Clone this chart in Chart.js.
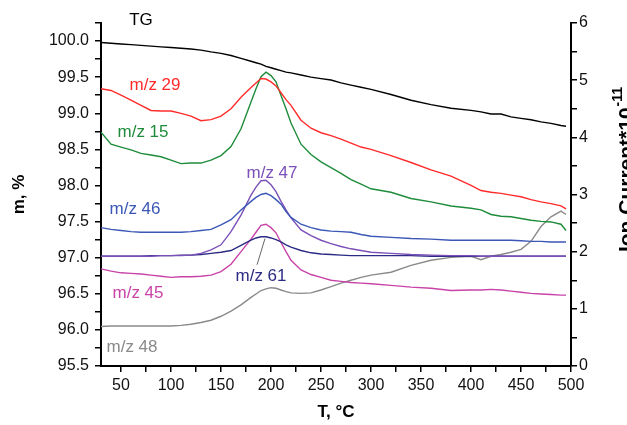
<!DOCTYPE html>
<html lang="en">
<head>
  <meta charset="UTF-8" />
  <title>TG / MS</title>
  <script src="https://cdn.jsdelivr.net/npm/chart.js"></script>
  <style>
    body { margin: 0; background: #fff; }
    #wrap { width: 627px; height: 425px; }
  </style>
</head>
<body>
  <div id="wrap"><canvas id="tgChart" width="627" height="425"></canvas></div>

  <script>
    // temperature, °C
    const temps = [30, 40, 50, 60, 70, 80, 90, 100, 110, 120, 130, 140, 150, 160, 170, 180, 185, 190, 195, 200,
      205, 210, 215, 220, 230, 240, 250, 260, 270, 280, 290, 300, 320, 340, 360, 380, 400, 410, 420, 430,
      440, 450, 460, 470, 480, 490, 495];

    // mass, % (left axis)
    const tg = [99.98, 99.97, 99.96, 99.95, 99.94, 99.93, 99.92, 99.91, 99.90, 99.89, 99.875, 99.85, 99.83, 99.80, 99.76, 99.72, 99.70, 99.68, 99.65, 99.63,
      99.61, 99.59, 99.57, 99.56, 99.53, 99.50, 99.48, 99.46, 99.42, 99.39, 99.36, 99.33, 99.26, 99.18, 99.12, 99.07, 99.04, 99.02, 98.99, 98.99,
      98.95, 98.93, 98.91, 98.88, 98.86, 98.83, 98.82];

    // ion current *1e-11 (right axis)
    const mz29 = [4.85, 4.82, 4.74, 4.65, 4.56, 4.47, 4.46, 4.46, 4.42, 4.37, 4.29, 4.31, 4.37, 4.50, 4.70, 4.87, 4.95, 5.03, 5.02, 4.97,
      4.90, 4.78, 4.66, 4.56, 4.30, 4.16, 4.08, 4.03, 3.97, 3.90, 3.83, 3.79, 3.68, 3.56, 3.43, 3.32, 3.16, 3.07, 3.04, 3.02,
      2.99, 2.96, 2.91, 2.87, 2.84, 2.80, 2.75];
    const mz15 = [4.09, 3.88, 3.83, 3.78, 3.72, 3.69, 3.66, 3.60, 3.54, 3.55, 3.55, 3.60, 3.68, 3.84, 4.15, 4.62, 4.85, 5.06, 5.14, 5.08,
      4.97, 4.73, 4.50, 4.25, 3.88, 3.70, 3.57, 3.47, 3.37, 3.26, 3.18, 3.10, 3.04, 2.93, 2.87, 2.80, 2.76, 2.73, 2.65, 2.62,
      2.61, 2.58, 2.55, 2.53, 2.52, 2.48, 2.37];
    const mz46 = [2.42, 2.39, 2.37, 2.35, 2.34, 2.34, 2.34, 2.34, 2.34, 2.35, 2.37, 2.39, 2.47, 2.56, 2.73, 2.88, 2.95, 3.00, 3.02, 2.98,
      2.91, 2.83, 2.70, 2.60, 2.48, 2.42, 2.38, 2.36, 2.35, 2.34, 2.30, 2.27, 2.25, 2.23, 2.22, 2.20, 2.20, 2.20, 2.20, 2.20,
      2.20, 2.19, 2.18, 2.18, 2.17, 2.17, 2.17];
    const mz47 = [1.92, 1.92, 1.92, 1.92, 1.92, 1.92, 1.93, 1.93, 1.93, 1.94, 1.97, 2.03, 2.12, 2.35, 2.64, 2.99, 3.13, 3.24, 3.25, 3.17,
      3.05, 2.88, 2.73, 2.59, 2.38, 2.28, 2.20, 2.14, 2.09, 2.05, 2.02, 1.99, 1.97, 1.95, 1.94, 1.93, 1.93, 1.92, 1.92, 1.92,
      1.92, 1.92, 1.92, 1.92, 1.92, 1.92, 1.92];
    const mz61 = [1.92, 1.92, 1.92, 1.92, 1.92, 1.93, 1.93, 1.93, 1.94, 1.94, 1.95, 1.97, 1.99, 2.02, 2.11, 2.20, 2.24, 2.26, 2.26, 2.24,
      2.21, 2.17, 2.12, 2.08, 2.02, 1.98, 1.96, 1.95, 1.94, 1.93, 1.93, 1.93, 1.93, 1.93, 1.92, 1.92, 1.92, 1.92, 1.92, 1.92,
      1.92, 1.92, 1.92, 1.92, 1.92, 1.92, 1.92];
    const mz45 = [1.70, 1.66, 1.63, 1.62, 1.61, 1.59, 1.57, 1.55, 1.56, 1.56, 1.57, 1.59, 1.65, 1.78, 2.00, 2.22, 2.34, 2.46, 2.48, 2.42,
      2.33, 2.16, 2.00, 1.85, 1.68, 1.60, 1.55, 1.50, 1.48, 1.46, 1.45, 1.44, 1.41, 1.38, 1.36, 1.32, 1.33, 1.33, 1.34, 1.33,
      1.31, 1.29, 1.27, 1.26, 1.25, 1.24, 1.24];
    const mz48 = [0.69, 0.70, 0.70, 0.70, 0.70, 0.70, 0.70, 0.70, 0.71, 0.73, 0.76, 0.80, 0.87, 0.96, 1.07, 1.20, 1.26, 1.32, 1.35, 1.37,
      1.36, 1.33, 1.30, 1.28, 1.27, 1.28, 1.33, 1.39, 1.45, 1.50, 1.55, 1.59, 1.64, 1.76, 1.85, 1.90, 1.92, 1.86, 1.92, 1.95,
      1.99, 2.04, 2.18, 2.44, 2.61, 2.71, 2.65];

    // axis ticks
    const xMajor = [50, 100, 150, 200, 250, 300, 350, 400, 450, 500];
    const xMinor = [75, 125, 175, 225, 275, 325, 375, 425, 475];
    const mMajor = [95.5, 96.0, 96.5, 97.0, 97.5, 98.0, 98.5, 99.0, 99.5, 100.0];
    const mMinor = [95.75, 96.25, 96.75, 97.25, 97.75, 98.25, 98.75, 99.25, 99.75, 100.25];
    const ionMajor = [0, 1, 2, 3, 4, 5, 6];
    const ionMinor = [0.5, 1.5, 2.5, 3.5, 4.5, 5.5];

    const series = [
      { name: 'TG', data: tg, color: '#000000', axis: 'y' },
      { name: 'm/z 29', data: mz29, color: '#ff2b2b', axis: 'y1' },
      { name: 'm/z 15', data: mz15, color: '#1e8c3a', axis: 'y1' },
      { name: 'm/z 46', data: mz46, color: '#3b57b6', axis: 'y1' },
      { name: 'm/z 47', data: mz47, color: '#7b50b8', axis: 'y1' },
      { name: 'm/z 61', data: mz61, color: '#2c2b84', axis: 'y1' },
      { name: 'm/z 45', data: mz45, color: '#c843a8', axis: 'y1' },
      { name: 'm/z 48', data: mz48, color: '#8a8a8a', axis: 'y1' }
    ];

    // where the curve names sit: [T, ion current]
    const notes = [
      { text: 'TG', at: [70, 6.04], color: '#000000' },
      { text: 'm/z 29', at: [84, 4.91], color: '#ff2b2b' },
      { text: 'm/z 15', at: [72, 4.08], color: '#1e8c3a' },
      { text: 'm/z 47', at: [201, 3.37], color: '#7b50b8' },
      { text: 'm/z 46', at: [64, 2.74], color: '#3b57b6' },
      { text: 'm/z 61', at: [190, 1.57], color: '#2c2b84' },
      { text: 'm/z 45', at: [67, 1.27], color: '#c843a8' },
      { text: 'm/z 48', at: [61, 0.33], color: '#8a8a8a' }
    ];
    const leader = [[194, 2.23], [186, 1.77]];

    const FONT = '"Liberation Sans", Arial, sans-serif';

    const notesPlugin = {
      id: 'notes',
      afterDatasetsDraw(chart) {
        const { ctx, scales: { x, y1 } } = chart;
        ctx.save();
        ctx.font = '17px ' + FONT;
        ctx.textAlign = 'center';
        ctx.textBaseline = 'middle';
        notes.forEach(n => {
          ctx.fillStyle = n.color;
          ctx.fillText(n.text, x.getPixelForValue(n.at[0]), y1.getPixelForValue(n.at[1]));
        });
        ctx.strokeStyle = '#666';
        ctx.lineWidth = 1;
        ctx.beginPath();
        ctx.moveTo(x.getPixelForValue(leader[0][0]), y1.getPixelForValue(leader[0][1]));
        ctx.lineTo(x.getPixelForValue(leader[1][0]), y1.getPixelForValue(leader[1][1]));
        ctx.stroke();

        // right axis title, read bottom to top, runs off the edge like the original
        ctx.translate(627, 170);
        ctx.rotate(-Math.PI / 2);
        ctx.fillStyle = '#000';
        ctx.textAlign = 'left';
        const main = 'Ion Current*10';
        ctx.font = 'bold 21px ' + FONT;
        const w1 = ctx.measureText(main).width;
        ctx.font = 'bold 14px ' + FONT;
        const w2 = ctx.measureText('-11').width;
        const start = -(w1 + w2) / 2;
        ctx.font = 'bold 21px ' + FONT;
        ctx.fillText(main, start, 0);
        ctx.font = 'bold 14px ' + FONT;
        ctx.fillText('-11', start + w1 + 1, -9);
        ctx.restore();
      }
    };

    function tickSet(major, minor) {
      return scale => { scale.ticks = major.concat(minor).sort((a, b) => a - b).map(v => ({ value: v })); };
    }
    const axisGrid = { drawOnChartArea: false, tickLength: 6, color: '#000', lineWidth: 1.5 };
    const axisBorder = { display: true, color: '#000', width: 2 };
    const tickFont = { family: FONT, size: 16 };

    new Chart(document.getElementById('tgChart'), {
      type: 'line',
      data: {
        datasets: series.map(s => ({
          label: s.name,
          data: temps.map((t, i) => ({ x: t, y: s.data[i] })),
          borderColor: s.color,
          borderWidth: 1.4,
          pointRadius: 0,
          tension: 0,
          yAxisID: s.axis
        }))
      },
      options: {
        responsive: false,
        animation: false,
        layout: { padding: { top: 23, left: 0, right: 0, bottom: 0 } },
        plugins: { legend: { display: false }, tooltip: { enabled: false } },
        scales: {
          x: {
            type: 'linear', min: 30, max: 500,
            afterBuildTicks: tickSet(xMajor, xMinor),
            afterFit: s => { s.height = 59; },
            grid: axisGrid, border: axisBorder,
            ticks: {
              autoSkip: false, maxRotation: 0, padding: 4, color: '#111', font: tickFont,
              callback: v => xMajor.includes(v) ? String(v) : ''
            },
            title: { display: true, text: 'T, °C', color: '#000', font: { family: FONT, size: 17, weight: 'bold' }, padding: { top: 0, bottom: 2 } }
          },
          y: {
            position: 'left', min: 95.5, max: 100.25,
            afterBuildTicks: tickSet(mMajor, mMinor),
            afterFit: s => { s.width = 101; },
            grid: axisGrid, border: axisBorder,
            ticks: {
              autoSkip: false, padding: 6, color: '#111', font: tickFont,
              callback: v => mMajor.includes(v) ? v.toFixed(1) : ''
            },
            title: { display: true, text: 'm, %', color: '#000', font: { family: FONT, size: 17, weight: 'bold' }, padding: { top: 9, bottom: 0 } }
          },
          y1: {
            position: 'right', min: 0, max: 6,
            afterBuildTicks: tickSet(ionMajor, ionMinor),
            afterFit: s => { s.width = 56; },
            grid: axisGrid, border: axisBorder,
            ticks: {
              autoSkip: false, padding: 2, color: '#111', font: tickFont,
              callback: v => ionMajor.includes(v) ? String(v) : ''
            }
          }
        }
      },
      plugins: [notesPlugin]
    });
  </script>
</body>
</html>
